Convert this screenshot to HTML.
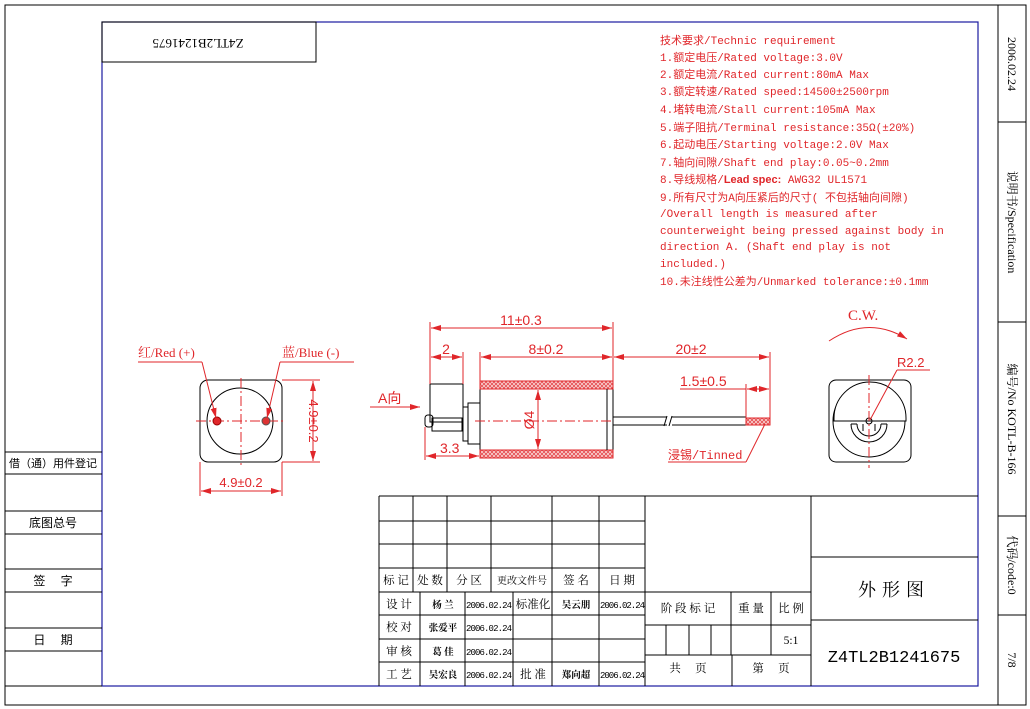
<!DOCTYPE html>
<html><head><meta charset="utf-8"><style>
html,body{margin:0;padding:0;background:#fff}
svg{display:block}
.k{stroke:#000;fill:none;stroke-width:1}
.r{stroke:#e0262a;fill:none;stroke-width:1}
.b{stroke:#1a1aa0;fill:none;stroke-width:1.2}
.t{font-size:12px;fill:#000}
.rd{font-size:13px;fill:#e0262a}
.s{font-size:9.5px;fill:#000}
</style></head><body>
<svg width="1030" height="709" viewBox="0 0 1030 709" xmlns="http://www.w3.org/2000/svg" style="font-family:'Liberation Serif','Noto Serif CJK SC',serif">
<defs>
<marker id="a" viewBox="0 0 10 6" refX="10" refY="3" markerWidth="10" markerHeight="6" orient="auto-start-reverse" markerUnits="userSpaceOnUse"><path d="M0,0L10,3L0,6z" fill="#e0262a"/></marker>
<pattern id="h" width="4" height="4" patternUnits="userSpaceOnUse"><rect width="4" height="4" fill="#f7c9c9"/><path d="M0,0L4,4M4,0L0,4" stroke="#e0262a" stroke-width="0.6"/></pattern>
</defs>
<rect x="5" y="5" width="1021" height="700" class="k"/>
<rect x="102" y="22" width="876" height="664" class="b"/>
<rect x="102" y="22" width="214" height="40" class="k"/>
<text transform="translate(198,42) rotate(180)" text-anchor="middle" dominant-baseline="middle" class="t" style="font-size:13px">Z4TL2B1241675</text>
<line x1="998" y1="5" x2="998" y2="705" class="k"/>
<g class="k"><line x1="998" y1="122" x2="1026" y2="122"/><line x1="998" y1="322" x2="1026" y2="322"/><line x1="998" y1="516" x2="1026" y2="516"/><line x1="998" y1="615" x2="1026" y2="615"/></g>
<g class="t" style="font-size:12px">
<text transform="translate(1008,64) rotate(90)" text-anchor="middle">2006.02.24</text>
<text transform="translate(1008,222) rotate(90)" text-anchor="middle">说明书/Specification</text>
<text transform="translate(1008,419) rotate(90)" text-anchor="middle">编号/No KOTL-B-166</text>
<text transform="translate(1008,565) rotate(90)" text-anchor="middle">代码/code:0</text>
<text transform="translate(1008,660) rotate(90)" text-anchor="middle">7/8</text>
</g>
<g class="k"><line x1="5" y1="452" x2="102" y2="452"/><line x1="5" y1="474" x2="102" y2="474"/><line x1="5" y1="511" x2="102" y2="511"/><line x1="5" y1="534" x2="102" y2="534"/><line x1="5" y1="569" x2="102" y2="569"/><line x1="5" y1="592" x2="102" y2="592"/><line x1="5" y1="628" x2="102" y2="628"/><line x1="5" y1="651" x2="102" y2="651"/><line x1="5" y1="686" x2="102" y2="686"/></g>
<g class="t" text-anchor="middle" style="font-family:'Liberation Sans','Noto Sans CJK SC',sans-serif;font-size:12px"><text x="53" y="467" style="font-size:11px">借（通）用件登记</text><text x="53" y="527">底图总号</text><text x="53" y="585">签　 字</text><text x="53" y="644">日　 期</text></g>
<g style="font-family:'Liberation Mono','Noto Sans CJK SC',monospace;font-size:11px;fill:#e0262a">
<text x="660" y="44">技术要求/Technic requirement</text>
<text x="660" y="61">1.额定电压/Rated voltage:3.0V</text>
<text x="660" y="78">2.额定电流/Rated current:80mA Max</text>
<text x="660" y="95">3.额定转速/Rated speed:14500±2500rpm</text>
<text x="660" y="113">4.堵转电流/Stall current:105mA Max</text>
<text x="660" y="131">5.端子阻抗/Terminal resistance:35Ω(±20%)</text>
<text x="660" y="148">6.起动电压/Starting voltage:2.0V  Max</text>
<text x="660" y="166">7.轴向间隙/Shaft end play:0.05~0.2mm</text>
<text x="660" y="183">8.导线规格/<tspan font-weight="bold" style="font-family:'Liberation Sans',sans-serif">Lead spec:</tspan> AWG32 UL1571</text>
<text x="660" y="201">9.所有尺寸为A向压紧后的尺寸( 不包括轴向间隙)</text>
<text x="660" y="217">/Overall length is measured after</text>
<text x="660" y="234">counterweight being pressed against body in</text>
<text x="660" y="250">direction A. (Shaft end play is not</text>
<text x="660" y="267">included.)</text>
<text x="660" y="285">10.未注线性公差为/Unmarked tolerance:±0.1mm</text>
</g>
<rect x="200" y="380" width="82" height="82" rx="8" class="k"/>
<circle cx="240" cy="421" r="33" class="k"/>
<g class="r" stroke-dasharray="10,3,2,3"><line x1="196" y1="421" x2="286" y2="421"/><line x1="241" y1="378" x2="241" y2="466"/></g>
<circle cx="217" cy="421" r="4" fill="#e0262a" stroke="#900"/>
<circle cx="266" cy="421" r="4" fill="#d33" stroke="#555"/>
<g class="r">
<line x1="138" y1="362" x2="202" y2="362"/><line x1="202" y1="362" x2="216" y2="418" marker-end="url(#a)"/>
<line x1="280" y1="362" x2="354" y2="362"/><line x1="280" y1="362" x2="267" y2="418" marker-end="url(#a)"/>
<line x1="282" y1="380" x2="320" y2="380"/><line x1="282" y1="462" x2="320" y2="462"/>
<line x1="313" y1="381" x2="313" y2="461" marker-start="url(#a)" marker-end="url(#a)"/>
<line x1="200" y1="462" x2="200" y2="496"/><line x1="282" y1="462" x2="282" y2="496"/>
<line x1="201" y1="491" x2="281" y2="491" marker-start="url(#a)" marker-end="url(#a)"/>
</g>
<text x="138" y="357" class="rd">红/Red (+)</text>
<text x="282" y="357" class="rd">蓝/Blue  (-)</text>
<g style="font-family:'Liberation Sans',sans-serif">
<text transform="translate(309,421) rotate(90)" text-anchor="middle" class="rd">4.9±0.2</text>
<text x="241" y="487" text-anchor="middle" class="rd">4.9±0.2</text>
</g>
<rect x="480" y="381" width="133" height="77" class="k"/>
<rect x="480" y="381" width="133" height="8" fill="url(#h)" stroke="#e0262a"/>
<rect x="480" y="450" width="133" height="8" fill="url(#h)" stroke="#e0262a"/>
<line x1="607" y1="389" x2="607" y2="450" class="k"/>
<rect x="430" y="384" width="33" height="38" class="k"/>
<rect x="432" y="418" width="30" height="13" class="k"/>
<rect x="425" y="415" width="8" height="12" rx="3" class="k"/>
<rect x="463" y="407" width="5" height="34" class="k"/>
<rect x="468" y="403" width="12" height="41" class="k"/>
<path d="M613,417H667M672,417H746M613,425H667M672,425H746" class="k"/>
<path d="M667,416 L664,426 M672,416 L669,426" class="k"/>
<rect x="746" y="418" width="24" height="7" fill="url(#h)" stroke="#e0262a"/>
<line x1="475" y1="421" x2="612" y2="421" class="r" stroke-dasharray="10,3,2,3"/>
<g class="r">
<line x1="430" y1="322" x2="430" y2="384"/><line x1="613" y1="322" x2="613" y2="381"/><line x1="463" y1="352" x2="463" y2="384"/><line x1="480" y1="352" x2="480" y2="381"/><line x1="770" y1="352" x2="770" y2="420"/><line x1="746" y1="384" x2="746" y2="418"/>
<line x1="431" y1="328" x2="612" y2="328" marker-start="url(#a)" marker-end="url(#a)"/>
<line x1="431" y1="357" x2="462" y2="357" marker-start="url(#a)" marker-end="url(#a)"/>
<line x1="481" y1="357" x2="612" y2="357" marker-start="url(#a)" marker-end="url(#a)"/>
<line x1="614" y1="357" x2="769" y2="357" marker-start="url(#a)" marker-end="url(#a)"/>
<line x1="680" y1="389" x2="746" y2="389"/><line x1="747" y1="389" x2="769" y2="389" marker-start="url(#a)" marker-end="url(#a)"/>
<line x1="538" y1="390" x2="538" y2="449" marker-start="url(#a)" marker-end="url(#a)"/>
<line x1="425" y1="427" x2="425" y2="460"/>
<line x1="426" y1="456" x2="479" y2="456" marker-start="url(#a)" marker-end="url(#a)"/>
<line x1="370" y1="407" x2="420" y2="407" marker-end="url(#a)"/>
<line x1="668" y1="462" x2="746" y2="462"/><line x1="746" y1="462" x2="765" y2="424"/>
</g>
<g class="rd" style="font-family:'Liberation Sans','Noto Sans CJK SC',sans-serif;font-size:14px">
<text x="521" y="325" text-anchor="middle">11±0.3</text>
<text x="446" y="354" text-anchor="middle">2</text>
<text x="546" y="354" text-anchor="middle">8±0.2</text>
<text x="691" y="354" text-anchor="middle">20±2</text>
<text x="680" y="386">1.5±0.5</text>
<text transform="translate(534,420) rotate(-90)" text-anchor="middle">Ø4</text>
<text x="440" y="453">3.3</text>
<text x="378" y="403">A向</text>
<text x="668" y="459" style="font-family:'Liberation Mono','Noto Sans CJK SC',monospace;font-size:12px">浸锡/Tinned</text>
</g>
<rect x="829" y="380" width="82" height="82" rx="7" class="k"/>
<circle cx="869" cy="421" r="36" class="k"/>
<path d="M834,418 A36,36 0 0 1 906,418 L906,421 L834,421 Z" fill="#fff" stroke="#000"/>
<path d="M851,424 A18,18 0 0 0 887,424 M857,424 A12,12 0 0 0 881,424 M851,424H857M881,424H887M863,424V431M875,424V431" class="k"/>
<circle cx="869" cy="421" r="3" class="k"/>
<line x1="869" y1="375" x2="869" y2="468" class="r" stroke-dasharray="10,3,2,3"/>
<path d="M829,341 Q868,315 907,339" class="r" marker-end="url(#a)"/>
<line x1="897" y1="370" x2="930" y2="370" class="r"/><line x1="897" y1="370" x2="870" y2="420" class="r"/>
<text x="848" y="320" class="rd" style="font-size:15px">C.W.</text>
<text x="897" y="367" class="rd" style="font-family:'Liberation Sans',sans-serif">R2.2</text>
<g class="k">
<line x1="379" y1="496" x2="978" y2="496"/>
<line x1="379" y1="496" x2="379" y2="686"/>
<line x1="379" y1="521" x2="645" y2="521"/><line x1="379" y1="544" x2="645" y2="544"/><line x1="379" y1="568" x2="645" y2="568"/>
<line x1="379" y1="592" x2="811" y2="592"/><line x1="379" y1="615" x2="645" y2="615"/><line x1="379" y1="639" x2="645" y2="639"/><line x1="379" y1="662" x2="645" y2="662"/>
<line x1="413" y1="496" x2="413" y2="592"/><line x1="447" y1="496" x2="447" y2="592"/><line x1="491" y1="496" x2="491" y2="592"/>
<line x1="420" y1="592" x2="420" y2="686"/><line x1="465" y1="592" x2="465" y2="686"/>
<line x1="513" y1="592" x2="513" y2="686"/>
<line x1="552" y1="496" x2="552" y2="686"/><line x1="599" y1="496" x2="599" y2="686"/><line x1="645" y1="496" x2="645" y2="686"/>
<line x1="811" y1="496" x2="811" y2="686"/>
<line x1="645" y1="625" x2="811" y2="625"/><line x1="645" y1="655" x2="811" y2="655"/>
<line x1="731" y1="592" x2="731" y2="655"/><line x1="771" y1="592" x2="771" y2="655"/>
<line x1="666" y1="625" x2="666" y2="655"/><line x1="689" y1="625" x2="689" y2="655"/><line x1="711" y1="625" x2="711" y2="655"/>
<line x1="732" y1="655" x2="732" y2="686"/>
<line x1="811" y1="557" x2="978" y2="557"/><line x1="811" y1="620" x2="978" y2="620"/>
</g>
<g class="t" style="font-size:11.5px" text-anchor="middle">
<text x="396" y="584">标 记</text><text x="430" y="584">处 数</text><text x="469" y="584">分 区</text><text x="522" y="584" style="font-size:10px">更改文件号</text><text x="576" y="584">签 名</text><text x="622" y="584">日 期</text>
<text x="399" y="608">设 计</text><text x="399" y="631">校 对</text><text x="399" y="655">审 核</text><text x="399" y="678">工 艺</text>
<text x="533" y="608">标准化</text><text x="533" y="678">批 准</text>
<text x="688" y="612">阶 段 标 记</text><text x="751" y="612">重 量</text><text x="791" y="612">比 例</text>
<text x="791" y="644">5:1</text>
<text x="688" y="672">共　 页</text><text x="771" y="672">第　 页</text>
<text x="894" y="596" style="font-size:18px;letter-spacing:6px">外形图</text>
<text x="894" y="662" style="font-size:17px;font-family:'Liberation Mono',monospace">Z4TL2B1241675</text>
</g>
<g class="s" style="font-weight:bold" text-anchor="middle">
<text x="443" y="608">杨 兰</text><text x="443" y="631">张爱平</text><text x="443" y="655">葛 佳</text><text x="443" y="678">吴宏良</text>
<text x="576" y="608">吴云朋</text><text x="576" y="678">郑向超</text>
</g>
<g class="s" style="font-size:9px;font-family:'Liberation Mono',monospace">
<text x="466" y="608" textLength="46">2006.02.24</text><text x="466" y="631" textLength="46">2006.02.24</text><text x="466" y="655" textLength="46">2006.02.24</text><text x="466" y="678" textLength="46">2006.02.24</text>
<text x="600" y="608" textLength="45">2006.02.24</text><text x="600" y="678" textLength="45">2006.02.24</text>
</g>
</svg>
</body></html>
